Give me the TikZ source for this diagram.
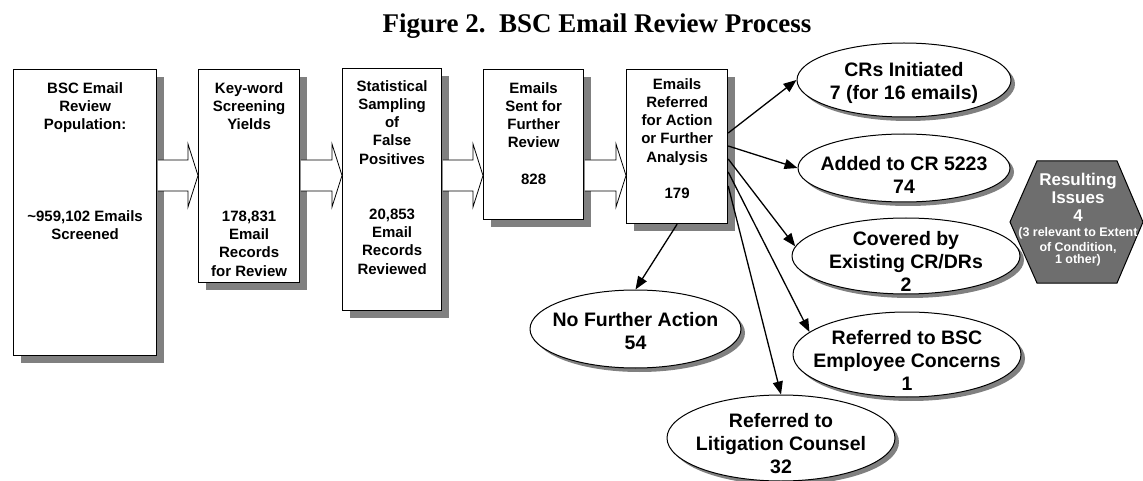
\documentclass[tikz,border=0pt]{standalone}
\usepackage{fontspec}
\setmainfont{Liberation Serif}
\setsansfont{Liberation Sans}
\usepackage{tikz}
\usetikzlibrary{arrows.meta,calc}
\usetikzlibrary{shapes,shadows}

\tikzset{
  stepbox/.style={draw, line width=1.2pt, fill=white, inner sep=0pt, anchor=north west,
    drop shadow={shadow xshift=7pt, shadow yshift=-7pt, fill=black!50, opacity=1}},
  boxtext/.style={font=\sffamily\bfseries\fontsize{15}{18.3}\selectfont, align=center, inner sep=0pt, anchor=north},
  oval/.style={ellipse, draw, line width=1pt, fill=white, inner sep=0pt,
    drop shadow={shadow xshift=4pt, shadow yshift=-4pt, fill=black!50, opacity=1}},
  ovaltext/.style={font=\sffamily\bfseries\fontsize{19.5}{23}\selectfont, align=center, inner sep=0pt},
  fatarrow/.style={draw, line width=0.8pt, fill=white},
  refer/.style={->, line width=1.3pt}
}

\begin{document}
\begin{tikzpicture}[x=1pt, y=-1pt, >={Triangle[length=13pt,width=10pt]}]

\useasboundingbox (0,0) rectangle (1143,481);

\node[font=\bfseries\fontsize{27}{30}\selectfont, anchor=base] (ttl) at (597,33) {Figure 2.\ \ BSC Email Review Process};

% process boxes
\node[stepbox, minimum width=143pt, minimum height=286pt] (pop) at (13,69) {};
\node[stepbox, minimum width=101pt, minimum height=213pt] (kws) at (198,69) {};
\node[stepbox, minimum width=99pt, minimum height=242pt] (sam) at (342,68) {};
\node[stepbox, minimum width=100pt, minimum height=150pt] (snt) at (483,69) {};
\node[stepbox, minimum width=101pt, minimum height=154pt] (rev) at (626,69) {};

\node[boxtext] (popt) at ($(pop.north)+(0,13)$) {BSC Email\\Review\\Population:\\ \\ \\ \\ \\\textasciitilde959,102 Emails\\Screened};
\node[boxtext] (kwst) at ($(kws.north)+(0,13)$) {Key-word\\Screening\\Yields\\ \\ \\ \\ \\178,831\\Email\\Records\\for Review};
\node[boxtext] (samt) at ($(sam.north)+(0,12)$) {Statistical\\Sampling\\of\\False\\Positives\\ \\ \\20,853\\Email\\Records\\Reviewed};
\node[boxtext] (sntt) at ($(snt.north)+(0,13)$) {Emails\\Sent for\\Further\\Review\\ \\828};
\node[boxtext] (revt) at ($(rev.north)+(0,9)$) {Emails\\Referred\\for Action\\or Further\\Analysis\\ \\179};

% block arrows between boxes
\foreach \a/\b in {pop/kws, kws/sam, sam/snt, snt/rev}
{
	\draw[fatarrow] ($(\a.east |- 0,160)+(0.6,0)$) -- ($(\b.west |- 0,160)+(-10,0)$) -- ($(\b.west |- 0,144)+(-10,0)$)
		-- (\b.west |- 0,175.5) -- ($(\b.west |- 0,207)+(-10,0)$) -- ($(\b.west |- 0,191)+(-10,0)$) -- ($(\a.east |- 0,191)+(0.6,0)$);
}

% outcomes
\node[oval, minimum width=214pt, minimum height=74pt] (cri) at (904,80) {};
\node[oval, minimum width=212pt, minimum height=68pt] (add) at (904,168) {};
\node[oval, minimum width=228pt, minimum height=76pt] (cov) at (906,256) {};
\node[oval, minimum width=228pt, minimum height=85pt] (emp) at (907,354.5) {};
\node[oval, minimum width=211pt, minimum height=78pt] (nfa) at (635.5,329) {};
\node[oval, minimum width=228pt, minimum height=86pt] (lit) at (781,438) {};

\node[ovaltext] (crit) at ($(cri)+(0,3)$) {CRs Initiated\\7 (for 16 emails)};
\node[ovaltext] (addt) at ($(add)+(0,7)$) {Added to CR 5223\\74};
\node[ovaltext] (covt) at ($(cov)+(0,5)$) {Covered by\\Existing CR/DRs\\2};
\node[ovaltext] (empt) at ($(emp)+(0,6)$) {Referred to BSC\\Employee Concerns\\1};
\node[ovaltext] (nfat) at ($(nfa)+(0,2)$) {No Further Action\\54};
\node[ovaltext] (litt) at ($(lit)+(0,6)$) {Referred to\\Litigation Counsel\\32};

\foreach \dy/\dest in {64/cri.west, 77/add.west, 90/cov.175, 103/emp.167, 117/lit.north}
{
	\draw[refer] ($(rev.north east)+(0,\dy)$) -- (\dest);
}
\draw[refer] (rev.south) -- (nfa.north);

% resulting issues
\draw[line width=1pt, fill=black!57] (1010,222) -- (1037,161) -- (1117,161) -- (1143,222) -- (1117,283) -- (1037,283) -- cycle;
\node[font=\sffamily\bfseries, text=white, align=center, text width=150pt, inner sep=0pt] (iss) at (1078,220)
	{\fontsize{17}{18}\selectfont Resulting\\Issues\\4\par\fontsize{12.5}{15}\selectfont (3 relevant to Extent\\of Condition,\\1 other)};

\end{tikzpicture}
\end{document}
